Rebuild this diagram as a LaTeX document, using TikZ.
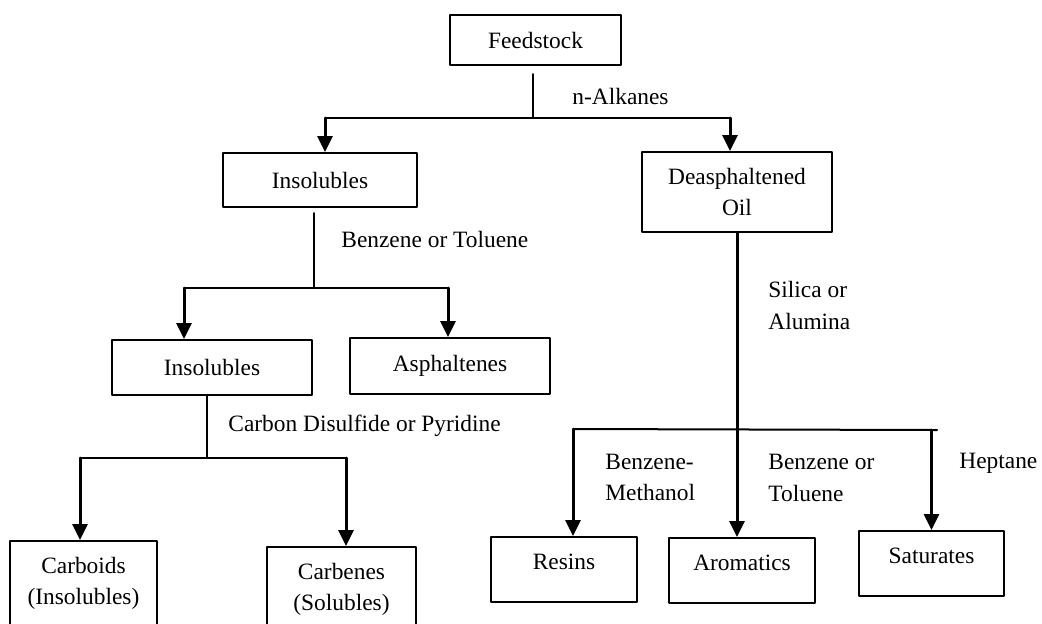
\documentclass[tikz,border=0pt]{standalone}
\usepackage{fontspec}
\setmainfont{Liberation Serif}
\usetikzlibrary{arrows.meta}
\begin{document}
\begin{tikzpicture}[x=0.5pt,y=-0.5pt,line cap=round,line join=round,
	font=\fontsize{11.7}{15.6}\selectfont,
	box/.style={draw,line width=1pt,inner sep=0pt,align=center},
	lowbox/.style={box,minimum height=32.5pt,text height=16.4pt,text depth=16.1pt},
	cutbox/.style={box,anchor=north,inner ysep=8pt,text depth=60pt},
	arr/.style={line width=1.5pt,-{Triangle[width=7.5pt,length=8pt]}},
	branch/.style={line width=1pt},
	stem/.style={line width=0.8pt},
	lbl/.style={anchor=west,align=left,inner sep=0pt}]
	\clip (0,0) rectangle (1042,623);
	\node[box,minimum width=85.5pt,minimum height=25pt] (feed) at (535.5,40) {Feedstock};
	\node[box,minimum width=97pt,minimum height=27pt] (ins1) at (320,180) {Insolubles};
	\node[box,minimum width=95pt,minimum height=40pt] (deoil) at (737,192) {Deasphaltened\\Oil};
	\node[box,minimum width=100pt,minimum height=27.5pt] (ins2) at (212,367.5) {Insolubles};
	\node[box,minimum width=100pt,minimum height=28pt] (asph) at (450,366) {Asphaltenes};
	\node[cutbox,minimum width=73.5pt] (carboids) at (83.5,540) {Carboids\\(Insolubles)};
	\node[cutbox,minimum width=74.5pt] (carbenes) at (341.5,546) {Carbenes\\(Solubles)};
	\node[lowbox,minimum width=73pt] (resins) at (564,569.5) {Resins};
	\node[lowbox,minimum width=73pt] (arom) at (742,570.5) {Aromatics};
	\node[lowbox,minimum width=72.5pt] (sat) at (931.5,563.5) {Saturates};
	% solvents
	\node[lbl] (alk) at (572,96) {n-Alkanes};
	\node[lbl] (bztol) at (341,239) {Benzene or Toluene};
	\node[lbl] (cspy) at (228,426) {Carbon Disulfide or Pyridine};
	\node[lbl] (silal) at (768,305.5) {Silica or\\Alumina};
	\node[lbl] (bzme) at (605,477.5) {Benzene-\\Methanol};
	\node[lbl] (bztol2) at (768,478) {Benzene or\\Toluene};
	\node[lbl] (hept) at (959,463) {Heptane};
	% feedstock split
	\coordinate (j1) at (533,118);
	\coordinate (b1l) at (325,118);
	\coordinate (b1r) at (730,118);
	\draw[stem,shorten <=4pt] (feed.south -| j1) -- (j1);
	\draw[branch] (b1l) -- (b1r);
	\draw[arr] (b1l) -- (b1l |- ins1.north);
	\draw[arr] (b1r) -- (b1r |- deoil.north);
	% insolubles split
	\coordinate (j2) at (314,288);
	\coordinate (b2l) at (184,288);
	\coordinate (b2r) at (448,288);
	\draw[stem,shorten <=2.5pt] (ins1.south -| j2) -- (j2);
	\draw[branch] (b2l) -- (b2r);
	\draw[arr] (b2l) -- (b2l |- ins2.north);
	\draw[arr] (b2r) -- (b2r |- asph.north);
	% carbon disulfide split
	\coordinate (j3) at (207,458);
	\coordinate (b3l) at (80,458);
	\coordinate (b3r) at (346,458);
	\draw[stem] (ins2.south -| j3) -- (j3);
	\draw[branch] (b3l) -- (b3r);
	\draw[arr] (b3l) -- (b3l |- carboids.north);
	\draw[arr] (b3r) -- (b3r |- carbenes.north);
	% oil split
	\coordinate (b4l) at (573,429);
	\coordinate (b4r) at (937,430);
	\draw[branch] (b4l) -- (b4r);
	\draw[arr] (deoil.south) -- (deoil.south |- arom.north);
	\draw[arr] (b4l) -- (b4l |- resins.north);
	\draw[arr] (sat.north |- b4r) -- (sat.north);
\end{tikzpicture}
\end{document}
